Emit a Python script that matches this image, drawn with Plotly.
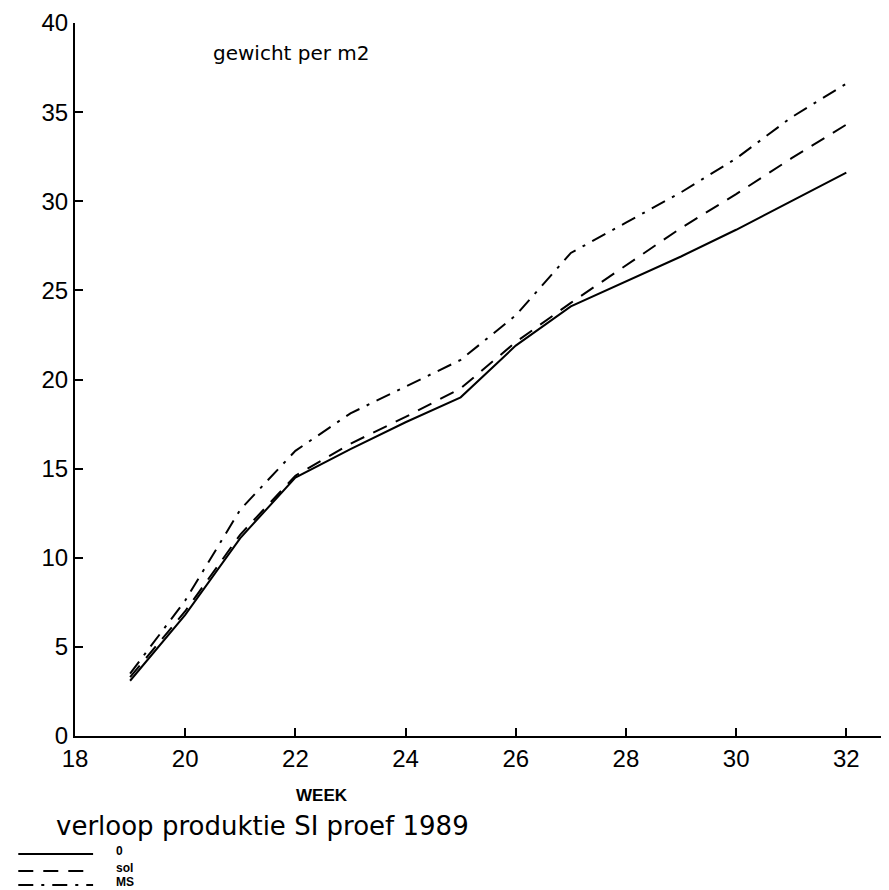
import plotly.graph_objects as go

weeks = [19, 20, 21, 22, 23, 24, 25, 26, 27, 28, 29, 30, 31, 32]
series_0 = [3.1, 6.8, 11.1, 14.5, 16.1, 17.6, 19.0, 21.9, 24.1, 25.5, 26.9, 28.4, 30.0, 31.6]
series_sol = [3.3, 7.0, 11.3, 14.6, 16.4, 17.9, 19.5, 22.1, 24.3, 26.4, 28.5, 30.4, 32.4, 34.3]
series_ms = [3.5, 7.6, 12.7, 16.0, 18.1, 19.6, 21.1, 23.6, 27.1, 28.8, 30.5, 32.4, 34.7, 36.6]
series_names = ["0", "sol", "MS"]
x_ticks = [18, 20, 22, 24, 26, 28, 30, 32]
y_ticks = [0, 5, 10, 15, 20, 25, 30, 35, 40]

FONT = "Liberation Sans, Arial, sans-serif"
WIDE = "DejaVu Sans, sans-serif"
dashes = ["solid", "15px,10px", "15px,8px,3px,8px"]

fig = go.Figure()
for name, vals, d in zip(series_names, [series_0, series_sol, series_ms], dashes):
    fig.add_trace(go.Scatter(x=weeks, y=vals, mode="lines", name=name,
                             line=dict(color="black", width=2, dash=d),
                             showlegend=False))

fig.update_layout(
    width=889, height=890,
    margin=dict(l=67, r=0, t=15, b=162),
    paper_bgcolor="white", plot_bgcolor="white",
    font=dict(family=FONT, color="black", size=22),
    xaxis=dict(range=[18, 32.92], tickvals=x_ticks, ticks="inside", ticklen=8,
               tickwidth=2, tickcolor="black", showline=True, linecolor="black",
               linewidth=2, showgrid=False, zeroline=False,
               tickfont=dict(size=24, family=FONT)),
    yaxis=dict(range=[0, 40], tickvals=y_ticks, ticks="inside", ticklen=8,
               tickwidth=2, tickcolor="black", showline=True, linecolor="black",
               linewidth=2, showgrid=False, zeroline=False,
               tickfont=dict(size=24, family=FONT)),
)

# text annotations
fig.add_annotation(text="gewicht per m2", xref="paper", yref="paper",
                   x=0.165, y=0.958, xanchor="left", yanchor="middle",
                   showarrow=False, font=dict(size=20, family=WIDE))
fig.add_annotation(text="<b>WEEK</b>", xref="paper", yref="paper",
                   x=0.300, y=-0.084, xanchor="center", yanchor="middle",
                   showarrow=False, font=dict(size=17, family=FONT))
fig.add_annotation(text="verloop produktie SI proef 1989", xref="paper", yref="paper",
                   x=-0.025, y=-0.126, xanchor="left", yanchor="middle",
                   showarrow=False, font=dict(size=26, family=WIDE))

# legend key drawn below the title
leg_y = [-0.1655, -0.1893, -0.209]
for name, d, yy in zip(series_names, dashes, leg_y):
    fig.add_shape(type="line", xref="paper", yref="paper",
                  x0=-0.069, x1=0.022, y0=yy, y1=yy,
                  line=dict(color="black", width=2, dash=d))
    fig.add_annotation(text="<b>" + name + "</b>", xref="paper", yref="paper",
                       x=0.048, y=yy + 0.004, xanchor="left", yanchor="middle",
                       showarrow=False, font=dict(size=12, family=FONT))

fig.write_html("out.html")
